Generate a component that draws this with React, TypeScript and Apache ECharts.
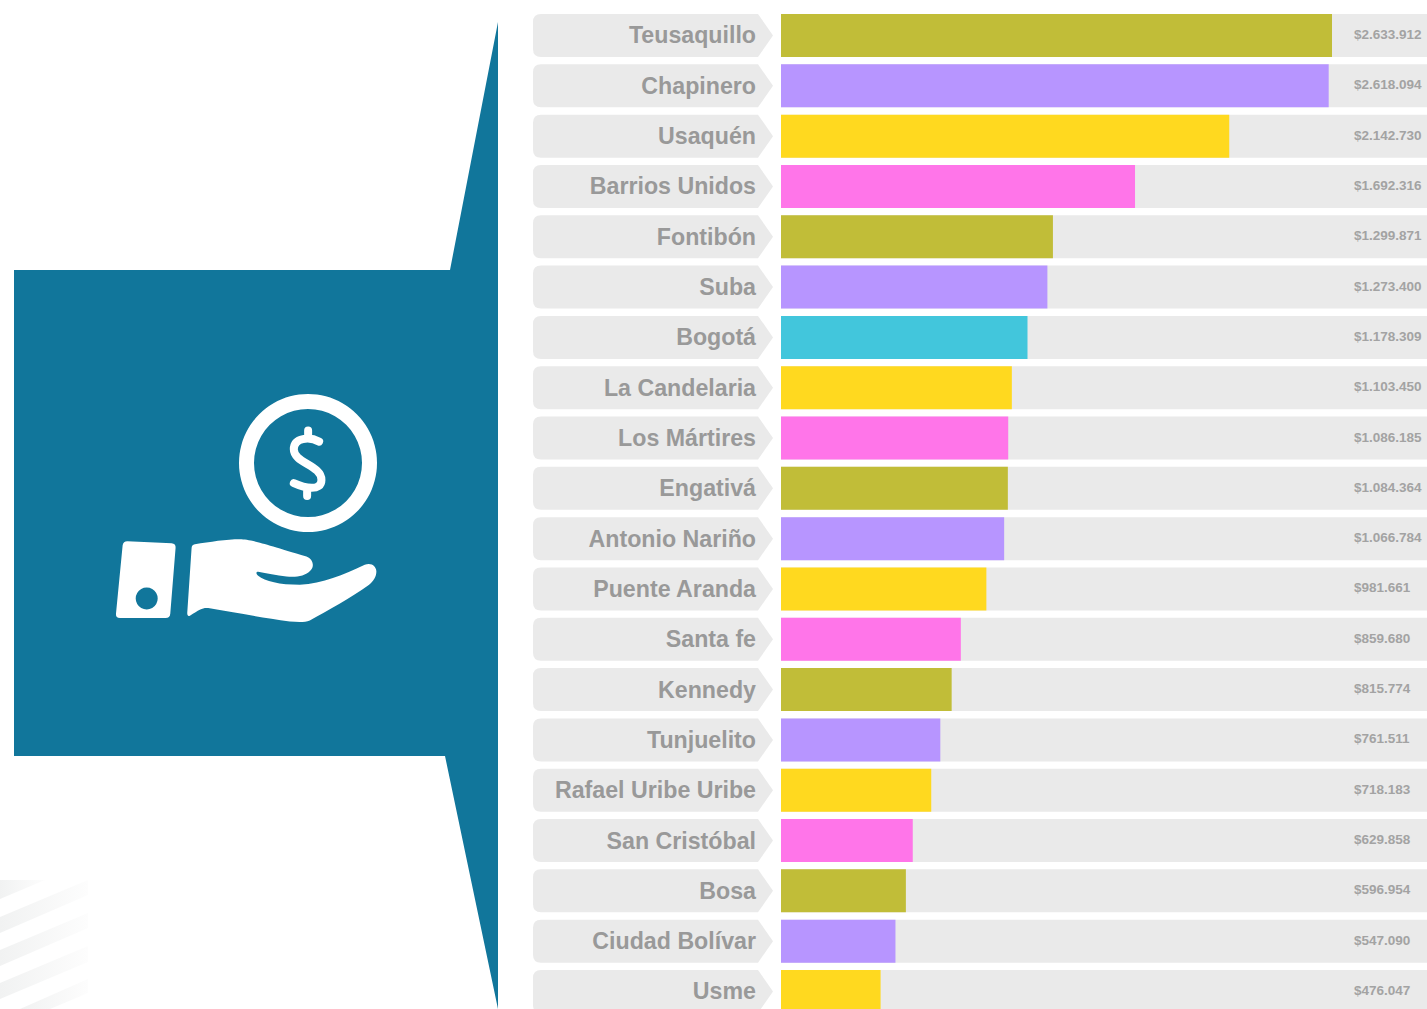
import React, { useEffect, useRef } from "react";
import * as echarts from "echarts";

const categories = ["Teusaquillo","Chapinero","Usaquén","Barrios Unidos","Fontibón","Suba","Bogotá","La Candelaria","Los Mártires","Engativá","Antonio Nariño","Puente Aranda","Santa fe","Kennedy","Tunjuelito","Rafael Uribe Uribe","San Cristóbal","Bosa","Ciudad Bolívar","Usme"];
const values = [2633912,2618094,2142730,1692316,1299871,1273400,1178309,1103450,1086185,1084364,1066784,981661,859680,815774,761511,718183,629858,596954,547090,476047];
const OLIVE = "#C1BD38", PURPLE = "#B795FF", YELLOW = "#FFD91F", PINK = "#FF75E9", CYAN = "#42C6DC";
const barColors = [OLIVE,PURPLE,YELLOW,PINK,OLIVE,PURPLE,CYAN,YELLOW,PINK,OLIVE,PURPLE,YELLOW,PINK,OLIVE,PURPLE,YELLOW,PINK,OLIVE,PURPLE,YELLOW];
const axisMax = 3088000;

const TEAL = "#11769B";
const TRACK = "#EAEAEA";
const TEXT = "#999999";

const HAND = "M 275 505 Q 275 495 285 493 C 330 486 380 478 420 478 C 450 478 480 488 620 530 C 640 537 645 560 632 572 C 615 590 590 592 560 590 C 530 588 500 580 475 576 C 468 576 468 582 475 588 C 495 605 540 615 600 615 C 670 612 730 585 795 555 C 815 547 830 560 830 575 C 830 590 822 605 805 617 C 760 650 680 695 630 722 C 615 728 595 727 570 725 C 480 712 400 698 325 685 C 310 683 300 688 270 708 C 264 711 262 706 262 700 Z";
const CUFF = "M 82 484 L 215 490 Q 228 491 227 504 L 211 702 Q 210 715 197 715 L 60 715 Q 47 715 48 702 L 68 496 Q 70 484 82 484 Z";
const DOLLAR = "M 658 185 C 630 170 582 172 582 208 C 582 250 665 255 665 300 C 665 335 615 325 582 310 M 625 152 L 625 176 M 622 325 L 622 348";

echarts.graphic.registerShape("iconHand", echarts.graphic.extendPath(HAND, {}) as any);
echarts.graphic.registerShape("iconCuff", echarts.graphic.extendPath(CUFF, {}) as any);
echarts.graphic.registerShape("iconDollar", echarts.graphic.extendPath(DOLLAR, {}) as any);

const fade = () => new echarts.graphic.LinearGradient(0, 0, 1, 0, [
  { offset: 0, color: "#F1F2F2" },
  { offset: 1, color: "#FDFDFD" },
]);
const stripes = [
  [[0, 880], [45, 880], [0, 899]],
  [[0, 917], [88, 880], [88, 895], [0, 933]],
  [[0, 950], [88, 913], [88, 928], [0, 966]],
  [[0, 983], [88, 946], [88, 962], [0, 999]],
  [[20, 1009], [88, 979], [88, 993], [50, 1009]],
];

const money = (v: number) => "$" + String(v).replace(/\B(?=(\d{3})+$)/g, ".");

export default function App() {
  const ref = useRef<HTMLDivElement>(null);
  useEffect(() => {
    const chart = echarts.init(ref.current!, null, { renderer: "svg" });
    chart.setOption({
      animation: false,
      backgroundColor: "#FFFFFF",
      grid: { left: 781, right: 0, top: 10.34, height: 1006.3, containLabel: false },
      xAxis: { type: "value", min: 0, max: axisMax, show: false },
      yAxis: {
        type: "category",
        inverse: true,
        data: categories,
        z: 10,
        axisLine: { show: false },
        axisTick: { show: false },
        splitLine: { show: false },
        axisLabel: {
          interval: 0,
          margin: 25,
          color: TEXT,
          fontFamily: "Liberation Sans",
          fontWeight: "bold",
          fontSize: 23.2,
          padding: [0, 0, 1, 0],
        },
      },
      series: [
        {
          type: "custom",
          z: 1,
          silent: true,
          data: categories.map((_, i) => [0, i]),
          encode: { x: 0, y: 1 },
          renderItem: (_p: any, api: any) => {
            const c = api.coord([0, api.value(1)])[1];
            const t = c - 21.5;
            const b = c + 21.5;
            return {
              type: "path",
              shape: {
                pathData: `M 541 ${t} L 758 ${t} L 773 ${c} L 758 ${b} L 541 ${b} Q 533 ${b} 533 ${b - 8} L 533 ${t + 8} Q 533 ${t} 541 ${t} Z`,
              },
              style: { fill: TRACK },
            };
          },
        },
        {
          type: "bar",
          z: 2,
          barWidth: 43,
          showBackground: true,
          backgroundStyle: { color: TRACK },
          data: values.map((v, i) => ({ value: v, itemStyle: { color: barColors[i] } })),
        },
        {
          type: "custom",
          z: 5,
          silent: true,
          data: values.map((v, i) => [v, i]),
          encode: { x: 0, y: 1 },
          renderItem: (_p: any, api: any) => {
            const c = api.coord([0, api.value(1)])[1];
            return {
              type: "text",
              x: 1354,
              y: c - 1,
              style: {
                text: money(api.value(0)),
                fill: "#A3A3A3",
                font: "bold 13.5px 'Liberation Sans'",
                align: "left",
                verticalAlign: "middle",
              },
            };
          },
        },
      ],
      graphic: [
        ...stripes.map((points) => ({
          type: "polygon",
          silent: true,
          shape: { points },
          style: { fill: fade() },
        })),
        {
          type: "polygon",
          silent: true,
          shape: { points: [[14, 270], [450, 270], [498, 22], [498, 1009], [445, 756], [14, 756]] },
          style: { fill: TEAL },
        },
        { type: "ring", silent: true, shape: { cx: 308, cy: 463, r: 69, r0: 54 }, style: { fill: "#FFFFFF" } },
        {
          type: "iconDollar", silent: true, x: 100, y: 380, scaleX: 1 / 3, scaleY: 1 / 3,
          style: { fill: "none", stroke: "#FFFFFF", lineWidth: 24, lineCap: "round" },
        },
        { type: "iconHand", silent: true, x: 100, y: 380, scaleX: 1 / 3, scaleY: 1 / 3, style: { fill: "#FFFFFF" } },
        { type: "iconCuff", silent: true, x: 100, y: 380, scaleX: 1 / 3, scaleY: 1 / 3, style: { fill: "#FFFFFF" } },
        { type: "circle", silent: true, shape: { cx: 146.7, cy: 598.5, r: 11 }, style: { fill: TEAL } },
      ],
    });
    return () => chart.dispose();
  }, []);
  return (
    <div style={{ position: "absolute", left: 0, top: 0, width: 1427, height: 1009, overflow: "hidden" }}>
      <div ref={ref} style={{ width: 1427, height: 1030 }} />
    </div>
  );
}
